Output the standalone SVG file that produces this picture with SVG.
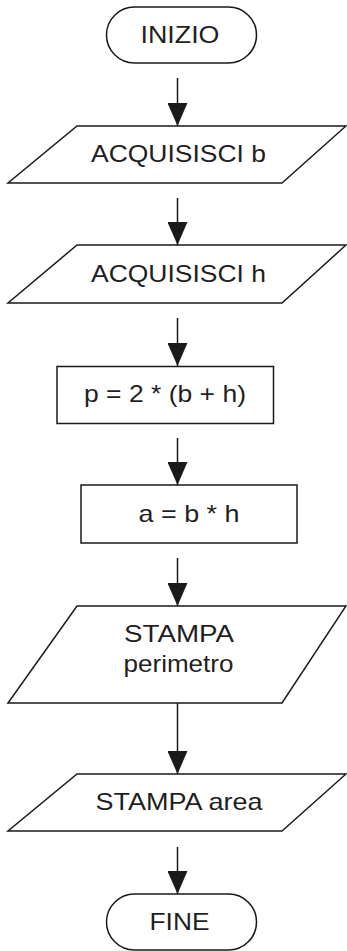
<svg xmlns="http://www.w3.org/2000/svg" width="347" height="951" viewBox="0 0 347 951">
  <defs>
    <marker id="head" markerUnits="userSpaceOnUse" markerWidth="23" markerHeight="20" viewBox="0 0 23 20" refX="23" refY="10" orient="auto">
      <path d="M0,0 L23,10 L0,20 Z" fill="#1a1a1a"/>
    </marker>
  </defs>
  <style>
    .shape { fill: #ffffff; stroke: #1a1a1a; stroke-width: 1.5; }
    .lbl { font-family: "Liberation Sans", Arial, sans-serif; font-size: 24px; fill: #1f1f1f; text-anchor: middle; }
    .conn { stroke: #1a1a1a; stroke-width: 1.5; fill: none; }
  </style>
  <rect width="347" height="951" fill="#ffffff"/>

  <!-- connectors -->
  <g id="connectors">
    <line class="conn" x1="177.5" y1="78" x2="177.5" y2="126" marker-end="url(#head)"/>
    <line class="conn" x1="177.5" y1="198" x2="177.5" y2="245" marker-end="url(#head)"/>
    <line class="conn" x1="177.5" y1="318" x2="177.5" y2="366" marker-end="url(#head)"/>
    <line class="conn" x1="177.5" y1="438" x2="177.5" y2="485" marker-end="url(#head)"/>
    <line class="conn" x1="177.5" y1="558" x2="177.5" y2="606" marker-end="url(#head)"/>
    <line class="conn" x1="177.5" y1="703" x2="177.5" y2="774" marker-end="url(#head)"/>
    <line class="conn" x1="177.5" y1="847" x2="177.5" y2="894" marker-end="url(#head)"/>
  </g>

  <!-- start -->
  <g id="inizio">
    <rect class="shape" x="106.5" y="7" width="150" height="56" rx="28" ry="28"/>
    <text class="lbl" x="180" y="42.7" textLength="79" lengthAdjust="spacingAndGlyphs">INIZIO</text>
  </g>

  <!-- input b -->
  <g id="acquisisci-b">
    <polygon class="shape" points="77,126 346,126 282,183 8,183"/>
    <text class="lbl" x="178.5" y="161.7" textLength="175" lengthAdjust="spacingAndGlyphs">ACQUISISCI b</text>
  </g>

  <!-- input h -->
  <g id="acquisisci-h">
    <polygon class="shape" points="77,245 346,245 282,303 8,303"/>
    <text class="lbl" x="178.5" y="281.7" textLength="175" lengthAdjust="spacingAndGlyphs">ACQUISISCI h</text>
  </g>

  <!-- perimeter -->
  <g id="calc-p">
    <rect class="shape" x="57" y="366.5" width="216.5" height="57"/>
    <text class="lbl" x="165" y="401.7" textLength="162" lengthAdjust="spacingAndGlyphs">p = 2 * (b + h)</text>
  </g>

  <!-- area -->
  <g id="calc-a">
    <rect class="shape" x="81" y="485" width="216" height="58"/>
    <text class="lbl" x="189" y="521.7" textLength="101" lengthAdjust="spacingAndGlyphs">a = b * h</text>
  </g>

  <!-- print perimeter -->
  <g id="stampa-perimetro">
    <polygon class="shape" points="77,606 346,606 282,703 8,703"/>
    <text class="lbl" x="179" y="642.3" textLength="110" lengthAdjust="spacingAndGlyphs">STAMPA</text>
    <text class="lbl" x="178.5" y="671.7" textLength="110" lengthAdjust="spacingAndGlyphs">perimetro</text>
  </g>

  <!-- print area -->
  <g id="stampa-area">
    <polygon class="shape" points="77,774 346,774 282,831 8,831"/>
    <text class="lbl" x="179" y="810" textLength="167" lengthAdjust="spacingAndGlyphs">STAMPA area</text>
  </g>

  <!-- end -->
  <g id="fine">
    <rect class="shape" x="106.5" y="894" width="150" height="56" rx="28" ry="28"/>
    <text class="lbl" x="179.5" y="930" textLength="60" lengthAdjust="spacingAndGlyphs">FINE</text>
  </g>
</svg>
